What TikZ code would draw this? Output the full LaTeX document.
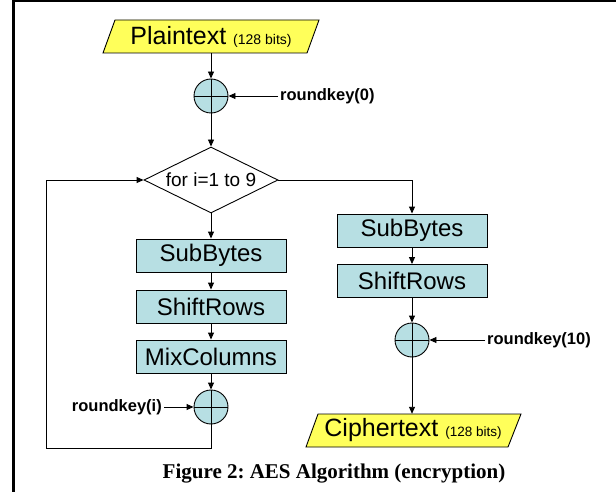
\documentclass[tikz,border=0pt]{standalone}
\usepackage{fontspec}
\setmainfont{Liberation Sans}
\newfontfamily\capfont{Liberation Serif}
\usetikzlibrary{arrows.meta,shapes.geometric,calc}
\definecolor{boxcyan}{RGB}{183,223,227}
\definecolor{ioyellow}{RGB}{255,255,90}
\frenchspacing
\tikzset{
  conn/.style={line width=0.9pt,-{Triangle[length=7pt,width=6pt]}},
  opbox/.style={rectangle,draw,line width=0.9pt,fill=boxcyan,minimum width=150pt,minimum height=33pt,inner sep=0pt,font=\fontsize{24}{24}\selectfont},
  xorc/.style={circle,draw,line width=0.9pt,fill=boxcyan,minimum size=34pt,inner sep=0pt,
    path picture={\draw[line width=0.8pt] (path picture bounding box.north) -- (path picture bounding box.south)
      (path picture bounding box.west) -- (path picture bounding box.east);}},
  keylbl/.style={font=\bfseries\fontsize{16.5}{16.5}\selectfont,inner sep=2pt},
  iotext/.style={rectangle,minimum width=192pt,minimum height=33pt,inner sep=0pt,font=\fontsize{25}{25}\selectfont},
  loopdia/.style={diamond,draw,line width=0.9pt,fill=white,aspect=2,minimum width=134pt,minimum height=66pt,inner sep=0pt,font=\fontsize{19}{19}\selectfont}
}
\begin{document}
\begin{tikzpicture}[x=1pt,y=-1pt]
\useasboundingbox (0,0) rectangle (616,492);
% frame
\draw[line width=2pt] (13,1) -- (616,1);
\draw[line width=2.6pt] (13.6,0) -- (13.6,492);
% plaintext
\filldraw[fill=ioyellow,line width=0.9pt] (115,20) -- (319,20) -- (307,53) -- (103,53) -- cycle;
\node[iotext] (pt) at (211,36.5) {Plaintext {\fontsize{14}{14}\selectfont (128 bits)}};
% first xor
\node[xorc] (x0) at (211,96) {};
\node[keylbl,anchor=west] (rk0) at (278,96) {roundkey(0)};
% loop diamond
\node[loopdia] (dia) at (211,180) {for i=1 to 9};
% left column
\node[opbox] (sb1) at (211,255.5) {SubBytes};
\node[opbox] (sr1) at (211,306.5) {ShiftRows};
\node[opbox] (mc1) at (211,356.5) {MixColumns};
\node[xorc] (x1) at (211,407) {};
\node[keylbl,anchor=east] (rki) at (164,407) {roundkey(i)};
\coordinate (lc) at (46,448);
% right column
\node[opbox] (sb2) at (412,230.5) {SubBytes};
\node[opbox] (sr2) at (412,281) {ShiftRows};
\node[xorc] (x2) at (412,340) {};
\node[keylbl,anchor=west] (rk10) at (485,340) {roundkey(10)};
% ciphertext
\filldraw[fill=ioyellow,line width=0.9pt] (318,414) -- (521,414) -- (508,447) -- (306,447) -- cycle;
\node[iotext] (ct) at (413,430.5) {Ciphertext {\fontsize{13.5}{13.5}\selectfont (128 bits)}};
% connectors
\draw[conn] (pt.south) -- (x0.north);
\draw[conn] (rk0.west) -- (x0.east);
\draw[conn] (x0.south) -- (dia.north);
\draw[conn] (dia.south) -- (sb1.north);
\draw[conn] (sb1.south) -- (sr1.north);
\draw[conn] (sr1.south) -- (mc1.north);
\draw[conn] (mc1.south) -- (x1.north);
\draw[conn] (rki.east) -- (x1.west);
\draw[conn] (x1.south) |- (lc) |- (dia.west);
\draw[conn] (dia.east) -| (sb2.north);
\draw[conn] (sb2.south) -- (sr2.north);
\draw[conn] (sr2.south) -- (x2.north);
\draw[conn] (rk10.west) -- (x2.east);
\draw[conn] (x2.south) -- (x2.south |- ct.north);
% caption
\node[font=\capfont\bfseries\fontsize{21}{21}\selectfont] (cap) at (334,474) {Figure 2: AES Algorithm (encryption)};
\end{tikzpicture}
\end{document}
